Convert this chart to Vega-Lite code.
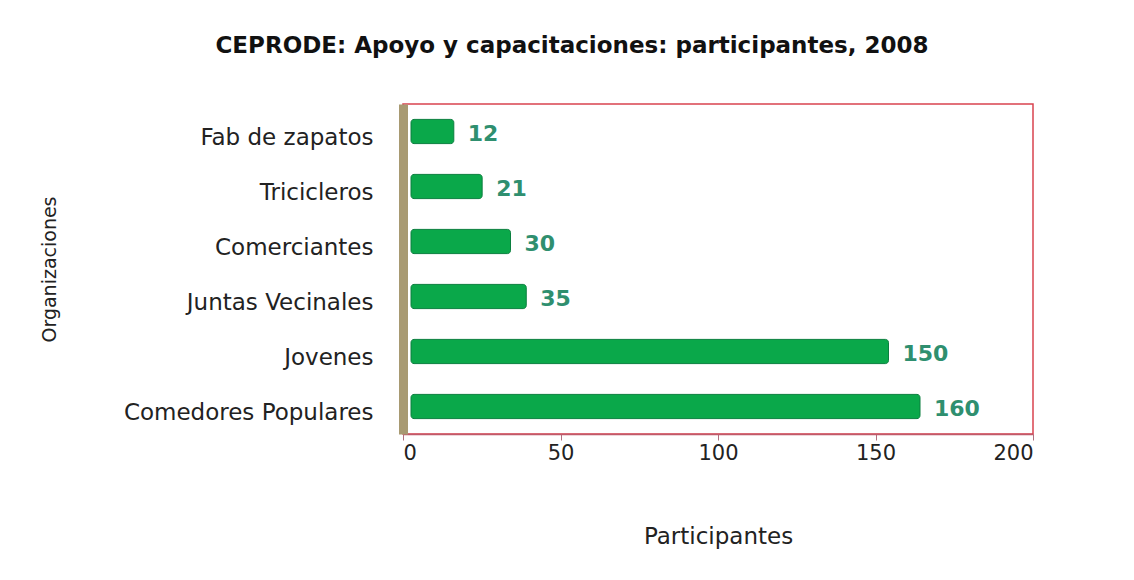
{
  "$schema": "https://vega.github.io/schema/vega-lite/v6.json",
  "width": 630,
  "height": 330,
  "autosize": {"type": "none"},
  "padding": {"left": 403, "top": 104, "right": 101, "bottom": 146},
  "background": "white",
  "title": {
    "text": "CEPRODE: Apoyo y capacitaciones: participantes, 2008",
    "font": "DejaVu Sans",
    "fontSize": 23,
    "fontWeight": "bold",
    "color": "#111111",
    "anchor": "middle",
    "dx": -146,
    "offset": 46
  },
  "data": {
    "values": [
      {"org": "Fab de zapatos", "participantes": 12},
      {"org": "Tricicleros", "participantes": 21},
      {"org": "Comerciantes", "participantes": 30},
      {"org": "Juntas Vecinales", "participantes": 35},
      {"org": "Jovenes", "participantes": 150},
      {"org": "Comedores Populares", "participantes": 160}
    ]
  },
  "encoding": {
    "y": {
      "field": "org",
      "type": "nominal",
      "sort": null,
      "scale": {"paddingInner": 0.56, "paddingOuter": 0.28},
      "axis": {
        "title": "Organizaciones",
        "titleFont": "DejaVu Sans",
        "titleFontSize": 19,
        "titleFontWeight": "normal",
        "titleColor": "#222222",
        "titlePadding": 144,
        "labelFont": "DejaVu Sans",
        "labelFontSize": 23,
        "labelLimit": 0,
        "labelColor": "#222222",
        "labelPadding": 30,
        "labelOffset": 6,
        "ticks": false,
        "domain": true,
        "domainColor": "#a89a72",
        "domainWidth": 9
      }
    },
    "x": {
      "field": "participantes",
      "type": "quantitative",
      "scale": {"domain": [0, 200], "nice": false},
      "axis": {
        "values": [0, 50, 100, 150, 200],
        "title": "Participantes",
        "titleFont": "DejaVu Sans",
        "titleFontSize": 23,
        "titleFontWeight": "normal",
        "titleColor": "#222222",
        "titlePadding": 62,
        "labelFont": "DejaVu Sans",
        "labelFontSize": 21,
        "labelColor": "#222222",
        "labelPadding": 2,
        "grid": false,
        "tickColor": "#b07080",
        "tickSize": 6,
        "domainColor": "#c05a6a",
        "domainWidth": 1.5
      }
    }
  },
  "layer": [
    {
      "mark": {"type": "bar", "color": "#0aa84a", "stroke": "#0b7f3f", "strokeWidth": 1, "xOffset": 13, "x2Offset": 8, "cornerRadiusEnd": 3},
      "encoding": {"x2": {"datum": 0}}
    },
    {
      "mark": {"type": "text", "align": "left", "baseline": "middle", "dx": 27, "dy": 2, "font": "DejaVu Sans", "fontSize": 22, "fontWeight": "bold", "color": "#2f8f6f"},
      "encoding": {"text": {"field": "participantes", "type": "quantitative"}}
    }
  ],
  "config": {
    "view": {"stroke": "#d9434f", "strokeWidth": 1.5}
  }
}
